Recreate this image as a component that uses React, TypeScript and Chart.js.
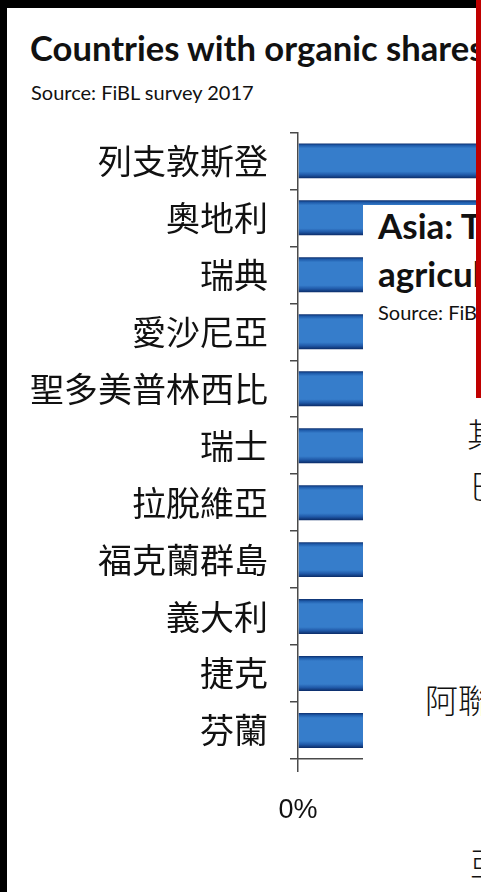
import React, { useEffect, useRef } from "react";
import { Chart, registerables } from "chart.js";

Chart.register(...registerables);

const categories = [
  "列支敦斯登",
  "奧地利",
  "瑞典",
  "愛沙尼亞",
  "聖多美普林西比",
  "瑞士",
  "拉脫維亞",
  "福克蘭群島",
  "義大利",
  "捷克",
  "芬蘭",
];
const organicShares = [30.2, 21.3, 16.9, 16.5, 13.9, 12.7, 12.3, 11.7, 11.7, 11.1, 9.3];
const xAxisMax = 35;
const xAxisStep = 5;

const titleText = "Countries with organic shares";
const sourceText = "Source: FiBL survey 2017";
const asiaTitle1 = "Asia: T";
const asiaTitle2 = "agricul";
const asiaSource = "Source: FiB";

export default function App() {
  const canvasRef = useRef<HTMLCanvasElement | null>(null);

  useEffect(() => {
    const canvas = canvasRef.current;
    if (!canvas) return;
    const barThickness = 35;
    const chart = new Chart(canvas, {
      type: "bar",
      data: {
        labels: categories,
        datasets: [
          {
            data: organicShares,
            backgroundColor: (c: any) => {
              const ch = c.chart;
              const ys = ch.scales && ch.scales.y;
              if (!ys || c.dataIndex === undefined || !ch.chartArea) return "#3278c6";
              const mid = ys.getPixelForValue(c.dataIndex);
              if (!isFinite(mid)) return "#3278c6";
              const g = ch.ctx.createLinearGradient(0, mid - barThickness / 2, 0, mid + barThickness / 2);
              g.addColorStop(0, "#0c2f6e");
              g.addColorStop(0.06, "#1f5cab");
              g.addColorStop(0.14, "#367dcb");
              g.addColorStop(0.8, "#367dcb");
              g.addColorStop(0.9, "#2059a8");
              g.addColorStop(1, "#0a2a66");
              return g;
            },
            borderWidth: 0,
            categoryPercentage: 1,
            barPercentage: 0.614,
          },
        ],
      },
      options: {
        indexAxis: "y",
        responsive: false,
        animation: false,
        devicePixelRatio: 1,
        layout: { padding: 0 },
        plugins: { legend: { display: false }, tooltip: { enabled: false } },
        scales: {
          y: {
            type: "category",
            offset: true,
            grid: {
              offset: true,
              drawOnChartArea: false,
              tickLength: 8,
              color: "#4a4a4a",
              lineWidth: 1.5,
            },
            border: { color: "#4a4a4a", width: 1.5 },
            ticks: {
              autoSkip: false,
              padding: 22,
              color: "#111111",
              font: { family: '"Noto Sans CJK TC"', size: 34 },
            },
            afterFit: (s: any) => {
              s.width = 298;
            },
          },
          x: {
            min: 0,
            max: xAxisMax,
            grid: {
              drawOnChartArea: false,
              tickLength: 13,
              color: "#4a4a4a",
              lineWidth: 1.5,
            },
            border: { color: "#4a4a4a", width: 1.5 },
            ticks: {
              stepSize: xAxisStep,
              maxRotation: 0,
              padding: 22,
              color: "#111111",
              font: { family: '"Liberation Sans"', size: 27 },
              callback: (v: any) => v + "%",
            },
            afterFit: (s: any) => {
              s.height = 80;
            },
          },
        },
      },
    } as any);
    chart.update();
    return () => chart.destroy();
  }, []);

  const abs = (o: React.CSSProperties): React.CSSProperties => ({ position: "absolute", whiteSpace: "nowrap", ...o });
  const cjk = (o: React.CSSProperties): React.CSSProperties =>
    abs({ fontFamily: '"Noto Sans CJK TC"', fontWeight: 300, fontSize: 33, lineHeight: 1, color: "#111", ...o });

  return (
    <div style={{ position: "fixed", left: 0, top: 0, width: 481, height: 892, overflow: "hidden", background: "#000" }}>
      <div style={abs({ left: 7, top: 8, width: 469, height: 884, background: "#fff" })} />
      <div style={abs({ left: 30, top: 31, fontFamily: "Lato", fontWeight: 700, fontSize: 34.6, lineHeight: 1, color: "#111" })}>{titleText}</div>
      <div style={abs({ left: 31, top: 82, fontFamily: "Lato", fontSize: 20, lineHeight: 1, color: "#111" })}>{sourceText}</div>
      <canvas ref={canvasRef} width={998} height={749} style={{ position: "absolute", left: 0, top: 90, width: 998, height: 749 }} />
      <div style={abs({ left: 363, top: 205, width: 118, height: 687, background: "#fff", overflow: "hidden" })}>
        <div style={abs({ left: 15, top: 3, fontFamily: "Lato", fontWeight: 700, fontSize: 35, lineHeight: 1, color: "#111" })}>{asiaTitle1}</div>
        <div style={abs({ left: 15, top: 51, fontFamily: "Lato", fontWeight: 700, fontSize: 35, lineHeight: 1, color: "#111" })}>{asiaTitle2}</div>
        <div style={abs({ left: 15, top: 97, fontFamily: "Lato", fontSize: 20, lineHeight: 1, color: "#111" })}>{asiaSource}</div>
        <div style={cjk({ left: 104, top: 212 })}>其</div>
        <div style={cjk({ left: 107, top: 264 })}>巴</div>
        <div style={cjk({ left: 62, top: 478 })}>阿聯</div>
        <div style={cjk({ left: 107, top: 641 })}>亞</div>
      </div>
      <div style={abs({ left: 476, top: 0, width: 5, height: 398, background: "#c00000" })} />
    </div>
  );
}
